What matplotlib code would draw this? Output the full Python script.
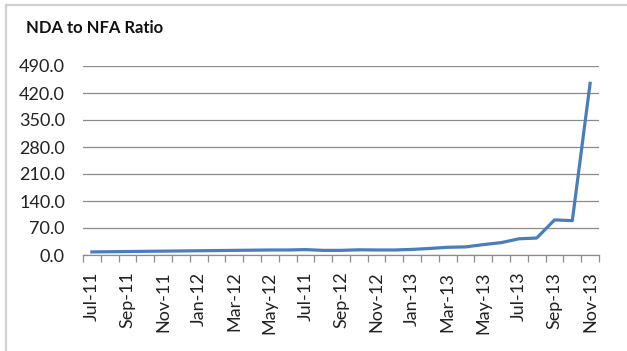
import matplotlib.pyplot as plt
import numpy as np
from matplotlib.lines import Line2D

# monthly NDA/NFA ratio, Jul-11 .. Nov-13
months = ["Jul-11", "Aug-11", "Sep-11", "Oct-11", "Nov-11", "Dec-11",
          "Jan-12", "Feb-12", "Mar-12", "Apr-12", "May-12", "Jun-12",
          "Jul-11", "Aug-12", "Sep-12", "Oct-12", "Nov-12", "Dec-12",
          "Jan-13", "Feb-13", "Mar-13", "Apr-13", "May-13", "Jun-13",
          "Jul-13", "Aug-13", "Sep-13", "Oct-13", "Nov-13"]
ratio = [8, 8.5, 9, 9.5, 10, 10.5, 11, 11.5, 12, 12.5, 13, 13,
         14, 12, 12, 13.5, 13, 13, 14.5, 17, 20, 21, 27, 32,
         42, 44, 91, 89, 445]
yticks = [0, 70, 140, 210, 280, 350, 420, 490]

plt.rcParams['font.family'] = ['Lato', 'DejaVu Sans']

fig = plt.figure(figsize=(6.27, 3.51), dpi=100)
ax = fig.add_axes([83/627, 1-255/351, (599-83)/627, (255-66)/351])

x = np.arange(len(ratio)) + 0.5
ax.plot(x, ratio, color="#4A7EBB", lw=2.3, solid_joinstyle="round")

ax.set_xlim(0, len(ratio))
ax.set_ylim(0, 490)
ax.set_yticks(yticks)
ax.set_yticklabels(["%.1f" % v for v in yticks], fontsize=13, color="#222222")
ax.tick_params(axis="y", length=0, pad=13)
ax.yaxis.grid(True, color="#8c8c8c", lw=0.9)
ax.set_axisbelow(True)

ax.set_xticks(x[::2])
ax.set_xticklabels(months[::2], rotation=90, fontsize=13, color="#222222")
ax.set_xticks(np.arange(len(ratio)+1), minor=True)
ax.tick_params(axis="x", which="major", length=0, pad=12)
ax.tick_params(axis="x", which="minor", length=5, color="#8c8c8c", width=0.9)

for s in ["left", "right", "top"]:
    ax.spines[s].set_visible(False)
ax.spines["bottom"].set_color("#8c8c8c")
ax.spines["bottom"].set_linewidth(0.9)

fig.text(26/627, 1-28/351, "NDA to NFA Ratio", fontsize=12, fontweight="bold",
         va="center", ha="left", color="#111111")

# outer chart border (only left and top visible)
fig.add_artist(Line2D([6/627, 6/627], [0, 1-5/351], transform=fig.transFigure,
                      color="#d0d0d0", lw=1.6))
fig.add_artist(Line2D([6/627, 1], [1-5/351, 1-5/351], transform=fig.transFigure,
                      color="#d0d0d0", lw=1.6))

fig.savefig("out.png", dpi=100)
